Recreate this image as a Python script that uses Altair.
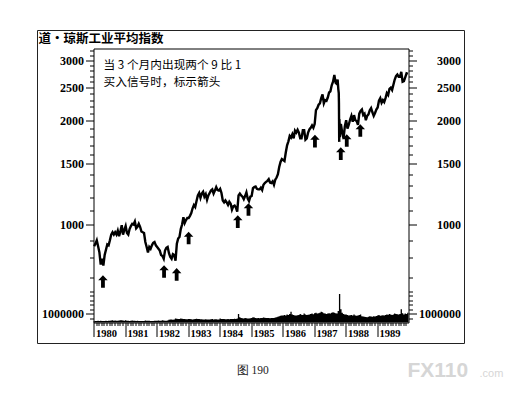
import altair as alt
import pandas as pd

# ---------------- data ----------------
YEARS = list(range(1980, 1990))

# Dow Jones Industrial Average, two readings per month (early / late)
dow_1980 = [865, 880, 900, 865, 830, 765, 795, 760, 815, 845, 875, 870,
            900, 935, 950, 935, 950, 935, 960, 925, 955, 995, 935, 965]
dow_1981 = [990, 945, 935, 970, 990, 1005, 1000, 1020, 975, 985, 1005, 985,
            955, 950, 945, 890, 860, 830, 860, 850, 870, 885, 890, 870]
dow_1982 = [860, 850, 840, 815, 810, 795, 840, 855, 860, 825, 805, 795,
            820, 815, 785, 880, 910, 920, 970, 1000, 1050, 1010, 1030, 1045]
dow_1983 = [1045, 1060, 1080, 1115, 1140, 1125, 1170, 1215, 1235, 1195, 1230, 1245,
            1205, 1225, 1180, 1215, 1235, 1255, 1265, 1230, 1255, 1285, 1260, 1255]
dow_1984 = [1270, 1235, 1175, 1160, 1175, 1160, 1140, 1165, 1150, 1105, 1130, 1135,
            1120, 1090, 1215, 1230, 1215, 1205, 1185, 1210, 1240, 1190, 1170, 1205]
dow_1985 = [1210, 1275, 1285, 1290, 1270, 1265, 1265, 1280, 1260, 1305, 1320, 1330,
            1340, 1355, 1325, 1320, 1335, 1305, 1350, 1370, 1400, 1470, 1520, 1550]
dow_1986 = [1540, 1530, 1620, 1700, 1745, 1810, 1790, 1830, 1780, 1875, 1850, 1885,
            1850, 1780, 1780, 1880, 1880, 1765, 1780, 1850, 1890, 1910, 1940, 1910]
dow_1987 = [1960, 2150, 2180, 2230, 2250, 2330, 2390, 2250, 2300, 2290, 2340, 2420,
            2440, 2540, 2600, 2720, 2580, 2560, 2480, 1950, 1960, 1850, 1780, 1930]
dow_1988 = [2010, 1900, 1950, 2020, 2070, 1990, 2080, 2010, 2000, 1950, 2100, 2140,
            2160, 2080, 2100, 2010, 2070, 2090, 2150, 2180, 2120, 2070, 2110, 2160]
dow_1989 = [2190, 2290, 2330, 2260, 2300, 2270, 2330, 2410, 2380, 2480, 2500, 2460,
            2550, 2640, 2700, 2730, 2690, 2690, 2780, 2600, 2610, 2680, 2750, 2740]
DOW = [dow_1980, dow_1981, dow_1982, dow_1983, dow_1984,
       dow_1985, dow_1986, dow_1987, dow_1988, dow_1989]

# October 1987 crash days
crash_dates = [1987.750, 1987.786, 1987.792, 1987.800, 1987.803, 1987.806, 1987.819]
crash_values = [2640, 2412, 2247, 1739, 1841, 2027, 1794]

# volume, two readings per month
vol_1980 = [0.14, 0.17, 0.16, 0.19, 0.18, 0.21, 0.17, 0.16, 0.18, 0.20, 0.17, 0.19,
            0.20, 0.22, 0.24, 0.20, 0.22, 0.19, 0.21, 0.23, 0.26, 0.24, 0.22, 0.20]
vol_1981 = [0.24, 0.20, 0.19, 0.18, 0.20, 0.22, 0.21, 0.19, 0.18, 0.20, 0.17, 0.18,
            0.16, 0.17, 0.18, 0.22, 0.20, 0.21, 0.19, 0.18, 0.17, 0.18, 0.19, 0.20]
vol_1982 = [0.20, 0.22, 0.21, 0.20, 0.24, 0.22, 0.21, 0.20, 0.22, 0.30, 0.35, 0.33,
            0.32, 0.34, 0.45, 0.42, 0.40, 0.38, 0.45, 0.42, 0.40, 0.38, 0.36, 0.37]
vol_1983 = [0.40, 0.38, 0.36, 0.35, 0.37, 0.38, 0.42, 0.40, 0.38, 0.37, 0.36, 0.35,
            0.34, 0.36, 0.33, 0.35, 0.34, 0.36, 0.38, 0.35, 0.37, 0.36, 0.34, 0.35]
vol_1984 = [0.45, 0.40, 0.38, 0.40, 0.37, 0.36, 0.38, 0.37, 0.40, 0.39, 0.38, 0.42,
            0.40, 0.45, 0.95, 0.60, 0.50, 0.48, 0.46, 0.50, 0.47, 0.45, 0.46, 0.48]
vol_1985 = [0.50, 0.58, 0.55, 0.50, 0.48, 0.50, 0.47, 0.52, 0.50, 0.55, 0.53, 0.50,
            0.52, 0.50, 0.48, 0.50, 0.52, 0.50, 0.55, 0.58, 0.65, 0.70, 0.75, 0.80]
vol_1986 = [0.78, 0.85, 0.80, 0.90, 0.85, 0.95, 1.20, 0.90, 0.85, 0.80, 0.78, 0.82,
            0.85, 0.95, 0.88, 0.85, 1.00, 0.90, 0.85, 0.88, 0.90, 0.95, 1.00, 0.92]
vol_1987 = [1.05, 1.10, 1.00, 1.05, 1.10, 1.20, 1.15, 1.05, 1.00, 0.95, 1.00, 1.05,
            1.00, 1.10, 1.15, 1.10, 1.05, 1.00, 1.30, 3.20, 1.50, 1.10, 0.95, 0.90]
vol_1988 = [0.90, 0.85, 0.80, 0.82, 0.85, 0.80, 0.90, 0.78, 0.75, 0.80, 0.85, 0.90,
            0.70, 0.68, 0.65, 0.62, 0.60, 0.65, 0.70, 0.68, 0.66, 0.70, 0.68, 0.72]
vol_1989 = [0.80, 0.85, 0.75, 0.78, 0.82, 0.80, 0.85, 0.90, 0.88, 0.95, 0.90, 0.85,
            0.90, 1.00, 0.95, 0.92, 0.90, 0.95, 1.50, 1.05, 0.90, 1.00, 0.95, 1.10]
VOL = [vol_1980, vol_1981, vol_1982, vol_1983, vol_1984,
       vol_1985, vol_1986, vol_1987, vol_1988, vol_1989]
VOL_UNIT = 1000000

# buy-signal arrows (date, price level of arrow centre)
arrow_dates = [1980.30, 1982.24, 1982.64, 1983.02, 1984.58,
               1984.92, 1987.03, 1987.85, 1988.04, 1988.47]
arrow_levels = [683, 730, 716, 914, 1020, 1106, 1748, 1608, 1755, 1877]

price_ticks = [700, 800, 900, 1000, 1100, 1200, 1300, 1400, 1500, 1600, 1700,
               1800, 1900, 2000, 2100, 2200, 2300, 2400, 2500, 2600, 2700, 2800,
               2900, 3000, 3100, 3200]
price_labels = [1000, 1500, 2000, 2500, 3000]
volume_ticks = [500000, 1000000, 1500000, 2000000, 2500000, 3000000, 3500000]
volume_labels = [1000000]
month_ticks = [1980 + m / 12 for m in range(120)]

TITLE = "道·琼斯工业平均指数"
NOTE = ["当 3 个月内出现两个 9 比 1", "买入信号时，标示箭头"]
CAPTION = "图 190"
WM_BIG = "FX110"
WM_SMALL = ".com"

# ---------------- tables ----------------
rows = []
for y, vals in zip(YEARS, DOW):
    for i, v in enumerate(vals):
        rows.append({"t": y + (i + 0.5) / 24, "p": v})
for t, v in zip(crash_dates, crash_values):
    rows.append({"t": t, "p": v})
price_df = pd.DataFrame(rows).sort_values("t")

vrows = []
for y, vals in zip(YEARS, VOL):
    for i, v in enumerate(vals):
        vrows.append({"t": y + i / 24, "v": v * VOL_UNIT})
vrows.append({"t": 1990.0, "v": VOL[-1][-1] * VOL_UNIT})
vol_df = pd.DataFrame(vrows)

arrow_df = pd.DataFrame({"t": arrow_dates, "p": arrow_levels})
one = pd.DataFrame({"k": [0]})

# ---------------- styling ----------------
W, H1, H2 = 315, 242, 32
NUM_FONT = "Liberation Sans Narrow"
CJK = "Noto Sans CJK SC"

xscale = alt.Scale(domain=[1980, 1990], nice=False, zero=False)
yprice = alt.Scale(type="log", domain=[643, 3249], nice=False)
yvol = alt.Scale(domain=[0, 3600000], nice=False, zero=True)

price_test = "indexof(%s, datum.value) >= 0" % str(price_labels)
vol_test = "indexof(%s, datum.value) >= 0" % str(volume_labels)
year_test = "abs(datum.value - round(datum.value)) < 0.01"


def yaxis(orient, values, test, right):
    kw = dict(
        orient=orient, values=values, title=None, grid=False,
        labelExpr="%s ? format(datum.value, 'd') : ''" % test,
        tickSize={"condition": {"test": test, "value": 8}, "value": 4},
        labelFont=NUM_FONT, labelFontSize=12, labelFontWeight="bold",
        labelColor="black", tickColor="black", domainColor="black",
        labelOverlap=False, labelFlush=False, labelBound=False,
    )
    if right:
        kw.update(labelAlign="right", labelPadding=44)
    else:
        kw.update(labelPadding=2)
    return alt.Axis(**kw)


top_x_axis = alt.Axis(orient="top", labels=False, ticks=False, domain=True,
                      title=None, grid=False, domainColor="black")
bottom_x_axis = alt.Axis(
    orient="bottom", values=month_ticks, title=None, grid=False,
    labelExpr="%s ? format(round(datum.value), 'd') : ''" % year_test,
    tickSize={"condition": {"test": year_test, "value": 14}, "value": 3},
    labelAlign="left", labelBaseline="top", labelPadding=-8, labelOffset=2,
    labelFont=NUM_FONT, labelFontSize=10.5, labelFontWeight="bold",
    labelColor="black", tickColor="black", domainColor="black",
    labelOverlap=False, labelFlush=False, labelBound=False,
)

ARROW = "M0,-1L0.75,-0.2L0.3,-0.2L0.3,1L-0.3,1L-0.3,-0.2L-0.75,-0.2Z"

# ---------------- price panel ----------------
frame = alt.Chart(one).mark_rect(fillOpacity=0, stroke="#222", strokeWidth=1).encode(
    x=alt.value(-56), x2=alt.value(371), y=alt.value(-18), y2=alt.value(295))

line = alt.Chart(price_df).mark_line(color="black", strokeWidth=2.4,
                                     strokeJoin="miter").encode(
    x=alt.X("t:Q", scale=xscale, axis=top_x_axis),
    y=alt.Y("p:Q", scale=yprice, axis=yaxis("left", price_ticks, price_test, False)),
    order="t:Q",
)

arrows = alt.Chart(arrow_df).mark_point(
    shape=ARROW, filled=True, color="black", size=160, opacity=1, strokeWidth=0
).encode(
    x=alt.X("t:Q", scale=xscale, axis=top_x_axis),
    y=alt.Y("p:Q", scale=yprice, axis=yaxis("right", price_ticks, price_test, True)),
)

title_txt = alt.Chart(one).mark_text(
    align="left", baseline="middle", font=CJK, fontSize=12.5, fontWeight="bold",
    color="black").encode(x=alt.value(-55), y=alt.value(-10), text=alt.value(TITLE))

note_txt = alt.Chart(one).mark_text(
    align="left", baseline="alphabetic", font=CJK, fontSize=11.7, lineHeight=17,
    color="black").encode(x=alt.value(10), y=alt.value(20), text=alt.value(NOTE))

price_panel = alt.layer(frame, line, arrows, title_txt, note_txt).resolve_axis(
    y="independent").properties(width=W, height=H1)

# ---------------- volume panel ----------------
vol_area = alt.Chart(vol_df).mark_area(color="black", interpolate="step-after").encode(
    x=alt.X("t:Q", scale=xscale, axis=bottom_x_axis),
    y=alt.Y("v:Q", scale=yvol, axis=yaxis("left", volume_ticks, vol_test, False)),
)
vol_right = alt.Chart(vol_df).mark_line(opacity=0).encode(
    x=alt.X("t:Q", scale=xscale, axis=bottom_x_axis),
    y=alt.Y("v:Q", scale=yvol, axis=yaxis("right", volume_ticks, vol_test, True)),
)

caption = alt.Chart(one).mark_text(
    align="left", baseline="middle", font="Liberation Serif", fontSize=11.5,
    color="#222").encode(x=alt.value(143), y=alt.value(80.5), text=alt.value(CAPTION))
wm_big = alt.Chart(one).mark_text(
    align="left", baseline="alphabetic", font="Liberation Sans", fontSize=21,
    fontWeight="bold", color="#d6d6d6").encode(
    x=alt.value(314), y=alt.value(86), text=alt.value(WM_BIG))
wm_small = alt.Chart(one).mark_text(
    align="left", baseline="alphabetic", font="Liberation Sans", fontSize=11,
    color="#d6d6d6").encode(
    x=alt.value(386), y=alt.value(86), text=alt.value(WM_SMALL))

vol_panel = alt.layer(vol_area, vol_right, caption, wm_big, wm_small).resolve_axis(
    y="independent").properties(width=W, height=H2)

chart = alt.vconcat(price_panel, vol_panel, spacing=0, bounds="flush").configure_view(
    stroke=None).properties(
    padding={"left": 28.5, "top": 21.5, "right": 5, "bottom": 5},
    background="white")

chart.save("out.html", embed_options={"renderer": "svg", "actions": False})
